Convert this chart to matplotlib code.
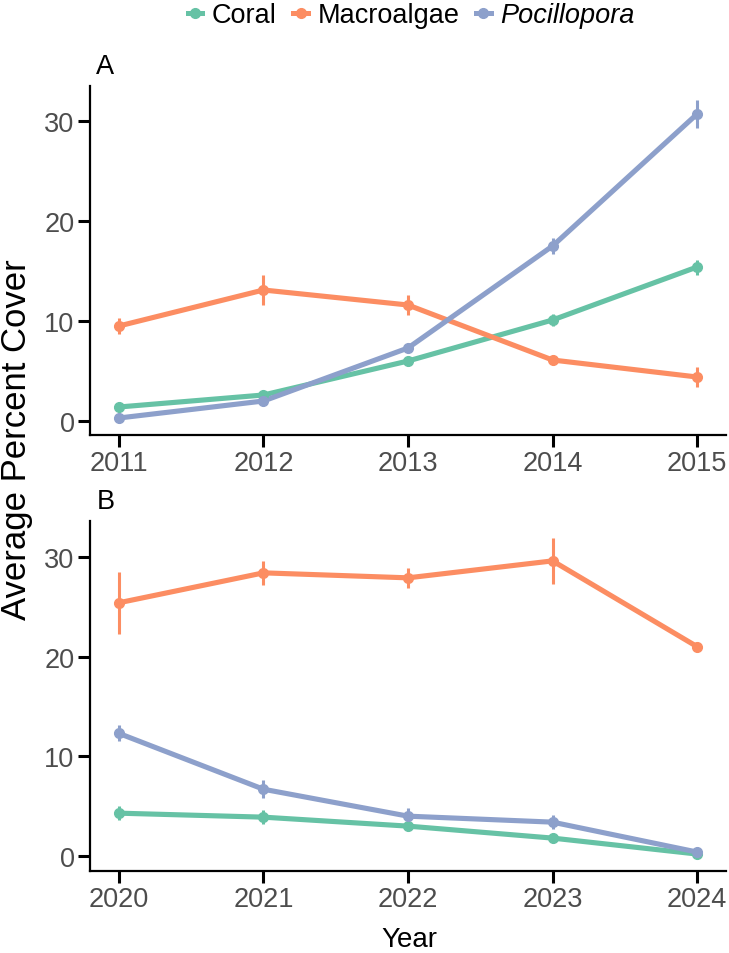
import matplotlib
matplotlib.use("Agg")
import matplotlib.pyplot as plt
from matplotlib.lines import Line2D

plt.rcParams["font.family"] = ["Liberation Sans", "DejaVu Sans"]

# Panel A (2011-2015)
years_a = [2011, 2012, 2013, 2014, 2015]
coral_a = [1.4, 2.6, 6.0, 10.1, 15.4]
coral_a_se = [0.3, 0.3, 0.3, 0.6, 0.75]
macro_a = [9.5, 13.1, 11.6, 6.1, 4.4]
macro_a_se = [0.8, 1.5, 1.0, 0.3, 1.0]
poci_a = [0.3, 2.0, 7.3, 17.5, 30.7]
poci_a_se = [0.2, 0.3, 0.3, 0.8, 1.4]

# Panel B (2020-2024)
years_b = [2020, 2021, 2022, 2023, 2024]
coral_b = [4.3, 3.9, 3.0, 1.8, 0.2]
coral_b_se = [0.7, 0.7, 0.3, 0.2, 0.1]
macro_b = [25.4, 28.4, 27.9, 29.6, 21.0]
macro_b_se = [3.1, 1.2, 1.0, 2.3, 0.1]
poci_b = [12.3, 6.7, 4.0, 3.4, 0.4]
poci_b_se = [0.8, 0.9, 0.8, 0.7, 0.2]

C_CORAL, C_MACRO, C_POCI = "#66C2A5", "#FC8D62", "#8DA0CB"
TICK_GREY = "#4D4D4D"

W, H = 729, 954
fig = plt.figure(figsize=(W / 100, H / 100), dpi=100)


def _panel(rect, years, series, ylim, letter):
    ax = fig.add_axes(rect)
    for vals, se, col in series:
        ax.plot(years, vals, color=col, lw=3.7, solid_capstyle="butt", zorder=2)
        ax.errorbar(years, vals, yerr=se, fmt="o", color=col, ms=7,
                    elinewidth=2.2, capsize=0, zorder=3)
    ax.set_xlim(years[0] - 0.2, years[-1] + 0.2)
    ax.set_ylim(*ylim)
    ax.set_xticks(years)
    ax.set_yticks([0, 10, 20, 30])
    for s in ("top", "right"):
        ax.spines[s].set_visible(False)
    for s in ("left", "bottom"):
        ax.spines[s].set_linewidth(1.6)
    ax.tick_params(length=8.6, width=2.2, labelsize=19.5, labelcolor=TICK_GREY,
                   pad=2.5)
    ax.text(0.01, 1.02, letter, transform=ax.transAxes, fontsize=19.5,
            ha="left", va="bottom")
    return ax


ax_a = _panel([90 / W, 1 - 436 / H, 636 / W, 349 / H], years_a,
              [(coral_a, coral_a_se, C_CORAL), (macro_a, macro_a_se, C_MACRO),
               (poci_a, poci_a_se, C_POCI)], (-1.4, 33.5), "A")
ax_b = _panel([90 / W, 1 - 872 / H, 636 / W, 350 / H], years_b,
              [(coral_b, coral_b_se, C_CORAL), (macro_b, macro_b_se, C_MACRO),
               (poci_b, poci_b_se, C_POCI)], (-1.5, 33.6), "B")

fig.text(17 / W, 1 - 440 / H, "Average Percent Cover", rotation=90,
         ha="center", va="center", fontsize=25)
fig.text(409 / W, 1 - 940 / H, "Year", ha="center", va="center", fontsize=20)

handles = [Line2D([], [], color=c, lw=3.6, marker="o", ms=7)
           for c in (C_CORAL, C_MACRO, C_POCI)]
leg = fig.legend(handles, ["Coral", "Macroalgae", "Pocillopora"],
                 loc="center", bbox_to_anchor=(411 / W, 1 - 16 / H), ncol=3,
                 frameon=False, fontsize=19.5, handlelength=0.55,
                 handletextpad=0.35, columnspacing=0.6, borderpad=0)
leg.get_texts()[2].set_fontstyle("italic")

fig.savefig("out.png", dpi=100)
